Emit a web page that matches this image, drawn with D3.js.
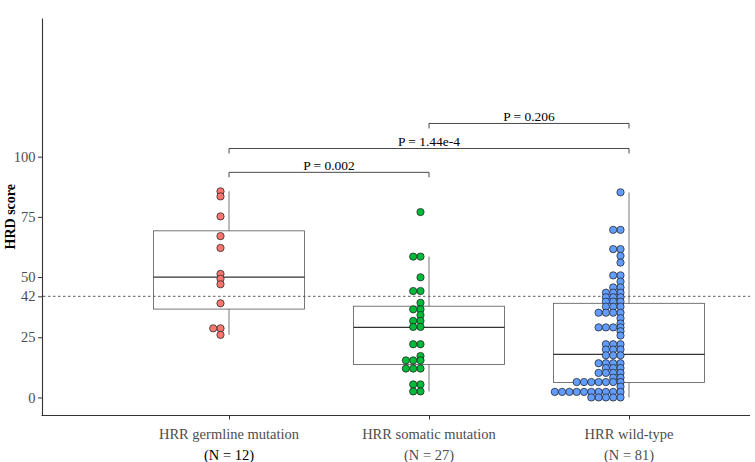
<!DOCTYPE html>
<html><head><meta charset="utf-8">
<script src="https://cdn.jsdelivr.net/npm/d3@7"></script>
<style>body{margin:0;background:#fff} svg{display:block}</style>
</head><body><svg id="c" width="755" height="462"></svg>
<script>
const categories = ["HRR germline mutation", "HRR somatic mutation", "HRR wild-type"];
const groupCounts = ["(N = 12)", "(N = 27)", "(N = 81)"];
const germlineValues = [85.6, 83.5, 75.2, 67.0, 62.1, 51.3, 49.3, 47.0, 39.1, 28.7, 28.7, 26.0];
const somaticValues = [77.0, 58.5, 58.5, 49.9, 44.2, 44.2, 39.3, 36.6, 36.6, 34.2, 31.8, 31.8, 29.3, 29.3,
  22.1, 22.1, 17.2, 15.4, 15.4, 15.4, 12.0, 12.0, 12.0, 5.4, 5.4, 2.5, 2.5];
const wildtypeValues = [85.2, 69.6, 69.6, 61.6, 61.6, 58.8, 56.0, 50.7, 50.7, 48.1, 45.7, 45.7,
  43.5, 43.5, 43.5, 41.6, 41.6, 41.6, 39.8, 39.8, 39.8, 37.7, 37.7, 37.7, 35.2, 35.2, 35.2, 35.2,
  32.9, 30.7, 29.1, 29.1, 29.1, 29.1, 27.5, 25.7, 22.1, 22.1, 22.1, 19.9, 19.9, 19.9,
  17.5, 17.5, 17.5, 14.2, 14.2, 14.2, 14.2, 12.2, 12.2, 12.2, 10.2, 10.2, 10.2, 10.2, 8.2, 8.2,
  6.4, 6.4, 6.4, 6.4, 6.4, 6.4, 6.4, 4.5, 2.3, 2.3, 2.3, 2.3, 2.3, 2.3, 2.3, 2.3, 2.3, 2.3,
  0, 0, 0, 0, 0];
const boxQ1 = [36.7, 13.7, 6.2];
const boxMedian = [50.0, 29.1, 17.9];
const boxQ3 = [69.2, 37.9, 39.1];
const whiskerLow = [26.0, 2.5, 0];
const whiskerHigh = [85.6, 58.5, 85.2];
const yTicks = [0, 25, 42, 50, 75, 100];
const thresholdValue = 42;
const comparisonFrom = [0, 0, 1];
const comparisonTo = [1, 2, 2];
const comparisonLabels = ["P = 0.002", "P = 1.44e-4", "P = 0.206"];
const comparisonLevels = [93.5, 103.4, 113.8];
const groupColors = ["#F8766D", "#00BA38", "#619CFF"];

const seriesValues = [germlineValues, somaticValues, wildtypeValues];
const svg = d3.select("#c");
const font = "'Liberation Serif','Times New Roman',serif";
const L = 42, R = 750, T = 18, B = 415.5;

const y = d3.scaleLinear().domain([-7.5, 157.6]).range([B, T]);
const x = d3.scalePoint().domain(categories).range([229, 629]);

// threshold line
svg.append("line").attr("x1", L + 1).attr("x2", R).attr("y1", y(thresholdValue)).attr("y2", y(thresholdValue))
  .attr("stroke", "#333").attr("stroke-width", 0.8).attr("stroke-dasharray", "2.5,2.5");

// boxplots
const halfW = 75.5;
categories.forEach((c, i) => {
  const cx = x(c);
  const g = svg.append("g");
  g.append("line").attr("x1", cx).attr("x2", cx).attr("y1", y(boxQ3[i])).attr("y2", y(whiskerHigh[i]))
    .attr("stroke", "#555").attr("stroke-width", 0.8);
  g.append("line").attr("x1", cx).attr("x2", cx).attr("y1", y(boxQ1[i])).attr("y2", y(whiskerLow[i]))
    .attr("stroke", "#555").attr("stroke-width", 0.8);
  g.append("rect").attr("x", cx - halfW).attr("width", 2 * halfW)
    .attr("y", y(boxQ3[i])).attr("height", y(boxQ1[i]) - y(boxQ3[i]))
    .attr("fill", "none").attr("stroke", "#555").attr("stroke-width", 0.8);
  g.append("line").attr("x1", cx - halfW).attr("x2", cx + halfW).attr("y1", y(boxMedian[i])).attr("y2", y(boxMedian[i]))
    .attr("stroke", "#333").attr("stroke-width", 1.2);
});

// dots stacked leftwards per identical value
const dotStep = 7.3, dotStart = 8.5, dotR = 3.65;
categories.forEach((c, i) => {
  const counts = new Map();
  const pts = seriesValues[i].map(v => {
    const k = counts.get(v) || 0;
    counts.set(v, k + 1);
    return {v, k};
  });
  svg.append("g").selectAll("circle").data(pts).join("circle")
    .attr("cx", d => x(c) - dotStart - d.k * dotStep)
    .attr("cy", d => y(d.v))
    .attr("r", dotR)
    .attr("fill", groupColors[i])
    .attr("stroke", "#1a1a1a").attr("stroke-width", 0.7);
});

// y axis
const yAxis = svg.append("g").attr("transform", `translate(${L},0)`)
  .call(d3.axisLeft(y).tickValues(yTicks).tickSize(4).tickSizeOuter(0).tickPadding(2.5));
yAxis.select(".domain").attr("stroke", "#333").attr("stroke-width", 1.1);
yAxis.selectAll(".tick line").attr("stroke", "#333");
yAxis.selectAll(".tick text").attr("font-family", font).attr("font-size", 14.5).attr("fill", "#4d4d4d");

// x axis
svg.append("line").attr("x1", L - 0.5).attr("x2", R).attr("y1", B).attr("y2", B)
  .attr("stroke", "#333").attr("stroke-width", 1.1);
const xAxis = svg.append("g").attr("transform", `translate(0,${B})`)
  .call(d3.axisBottom(x).tickSize(4).tickSizeOuter(0).tickFormat(""));
xAxis.select(".domain").remove();
xAxis.selectAll(".tick line").attr("stroke", "#333");
categories.forEach((c, i) => {
  svg.append("text").attr("x", x(c)).attr("y", 438.5).attr("text-anchor", "middle")
    .attr("font-family", font).attr("font-size", 14.5).attr("fill", "#4d4d4d").text(c);
  svg.append("text").attr("x", x(c)).attr("y", 460).attr("text-anchor", "middle")
    .attr("font-family", font).attr("font-size", 14.5).attr("fill", i === 0 ? "#000" : "#4d4d4d").text(groupCounts[i]);
});

// y title
svg.append("text").attr("transform", `translate(14.5,${(T + B) / 2}) rotate(-90)`)
  .attr("text-anchor", "middle").attr("font-family", font).attr("font-weight", "bold")
  .attr("font-size", 14).attr("fill", "#000").text("HRD score");

// significance brackets
comparisonLabels.forEach((lab, i) => {
  const x1 = x(categories[comparisonFrom[i]]), x2 = x(categories[comparisonTo[i]]);
  const yy = y(comparisonLevels[i]);
  svg.append("path").attr("d", `M${x1},${yy + 5}V${yy}H${x2}V${yy + 5}`)
    .attr("fill", "none").attr("stroke", "#333").attr("stroke-width", 0.9);
  svg.append("text").attr("x", (x1 + x2) / 2).attr("y", yy - 2.5).attr("text-anchor", "middle")
    .attr("font-family", font).attr("font-size", 13.5).attr("fill", "#000").text(lab);
});
</script></body></html>
